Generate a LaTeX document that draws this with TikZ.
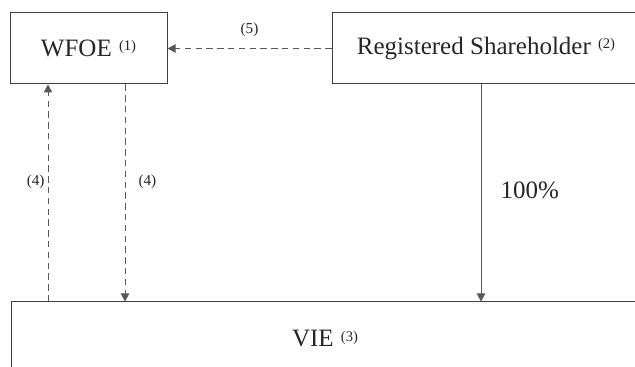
\documentclass[tikz,border=0pt]{standalone}
\usepackage{fontspec}
\setmainfont{Liberation Serif}
\usetikzlibrary{arrows.meta}

% small raised note marker after an entity name
\newcommand{\notemark}[1]{\hspace{3.6pt}{\fontsize{7.3}{7.3}\selectfont\raisebox{2.8pt}{(#1)}}}

\begin{document}
\begin{tikzpicture}[x=0.5pt,y=-0.5pt,
  entity/.style={draw=black!75, line width=0.5pt, rectangle, inner sep=0pt,
    font=\fontsize{12.5}{14}\selectfont, text=black!85},
  link/.style={draw=black!65, line width=0.5pt,
    -{Triangle[width=4.2pt,length=4pt]}},
  linkdashed/.style={link, dash pattern=on 3.2pt off 2.2pt},
  tag/.style={font=\fontsize{7.6}{8}\selectfont, text=black!85, inner sep=0pt},
  pct/.style={font=\fontsize{12.5}{14}\selectfont, text=black!85, inner sep=0pt}]
  \useasboundingbox (0,0) rectangle (635,367);
  \clip (0,0) rectangle (635,367);

  % entities (the two right-hand boxes run on past the right margin)
  \node[entity, minimum width=78.5pt, minimum height=35.5pt] (wfoe) at (88.5,48.5) {WFOE\notemark{1}};
  \node[entity, minimum width=164pt, minimum height=35.5pt] (reg) at (496,48.5)
    {Registered Shareholder\notemark{2}\hspace*{10pt}};
  \node[entity, minimum width=324pt, minimum height=37pt] (vie) at (335,339)
    {VIE\notemark{3}\hspace*{10pt}};

  % x positions of the vertical links
  \coordinate (up) at (48,0);
  \coordinate (down) at (125,0);
  \coordinate (own) at (481,0);

  % links
  \draw[linkdashed] (reg.west) -- node[tag, above=5.5pt] {(5)} (wfoe.east);
  \draw[linkdashed] (vie.north -| up) -- node[tag, left=1.5pt, pos=0.55] {(4)} (wfoe.south -| up);
  \draw[linkdashed] (wfoe.south -| down) -- node[tag, right=6.5pt, pos=0.45] {(4)} (vie.north -| down);
  \draw[link] (reg.south -| own) -- node[pct, right=9.5pt, pos=0.49] {100\%} (vie.north -| own);
\end{tikzpicture}
\end{document}
